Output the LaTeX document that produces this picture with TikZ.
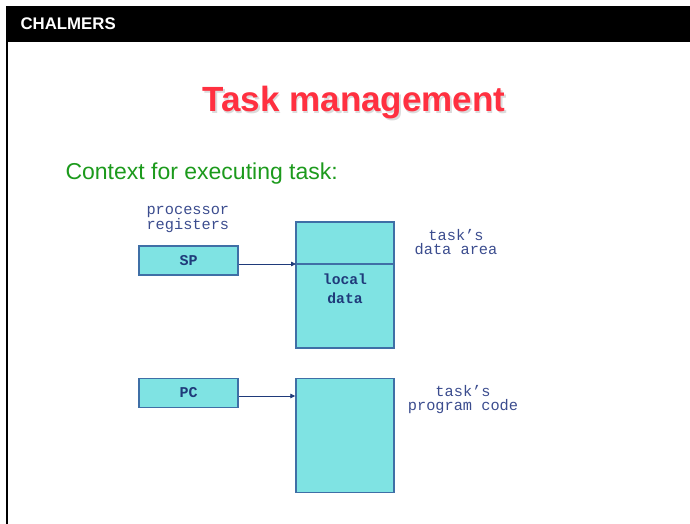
\documentclass[tikz,border=0pt]{standalone}
\usepackage{fontspec}
\setmainfont{Liberation Sans}
\setmonofont{Liberation Mono}
\usetikzlibrary{arrows.meta}
\definecolor{boxfill}{HTML}{7FE3E3}
\definecolor{boxline}{HTML}{3F6FA6}
\definecolor{navy}{HTML}{1F3A7A}
\definecolor{labelblue}{HTML}{3B4C8E}
\definecolor{titlered}{HTML}{FF3040}
\definecolor{ctxgreen}{HTML}{1C9A1C}
\begin{document}
\begin{tikzpicture}[
        x=1pt, y=-1pt,
        reg/.style={rectangle, draw=boxline, fill=boxfill, line width=1.4pt, minimum width=99pt, minimum height=29pt, inner sep=0pt,
            font=\ttfamily\bfseries\fontsize{15}{15}\selectfont, text=navy},
        area/.style={rectangle, draw=boxline, fill=boxfill, line width=1.4pt, minimum width=98pt, inner sep=0pt},
        note/.style={align=center, font=\ttfamily\fontsize{15.3}{14}\selectfont, text=labelblue},
        link/.style={-{Triangle[length=5pt,width=4.5pt]}, draw=navy, line width=0.8pt}
    ]
    \useasboundingbox (0,0) rectangle (690,524);
    % frame of the slide
    \fill[black] (6,6) rectangle (690,42);
    \draw[black, line width=2pt] (7,42) -- (7,524);
    \node[anchor=west, text=white, font=\bfseries\fontsize{16.8}{16.8}\selectfont] (brand) at (17,24) {CHALMERS};
    \node[text=black!14, font=\bfseries\fontsize{35}{35}\selectfont] (shadow) at (355.5,104.5) {Task management};
    \node[text=titlered, font=\bfseries\fontsize{35}{35}\selectfont] (title) at (354,103) {Task management};
    \node[anchor=west, text=ctxgreen, font=\fontsize{23}{23}\selectfont] (context) at (62,174) {Context for executing task:};

    % registers
    \node[note, anchor=west] (regs) at (143,219.5) {processor\\registers};
    \node[reg] (sp) at (188.5,260.5) {SP};
    \node[reg] (pc) at (188.5,393) {PC};

    % task's areas
    \node[area, minimum height=126pt] (data) at (345,285) {};
    \coordinate (split) at (296,264);
    \draw[boxline, line width=1.2pt] (split) -- (data.east |- split);
    \node[text=navy, align=center, font=\ttfamily\bfseries\fontsize{14.7}{19}\selectfont] (local) at (345,289) {local\\data};
    \node[note] (dlabel) at (456,242) {task’s\\data area};

    \node[area, minimum height=114pt] (code) at (345,435.5) {};
    \node[note] (clabel) at (463,399.5) {task’s\\program code};

    \draw[link] (sp.east |- split) -- (split);
    \draw[link] (pc.east |- 0,396) -- (code.west |- 0,396);
\end{tikzpicture}
\end{document}
